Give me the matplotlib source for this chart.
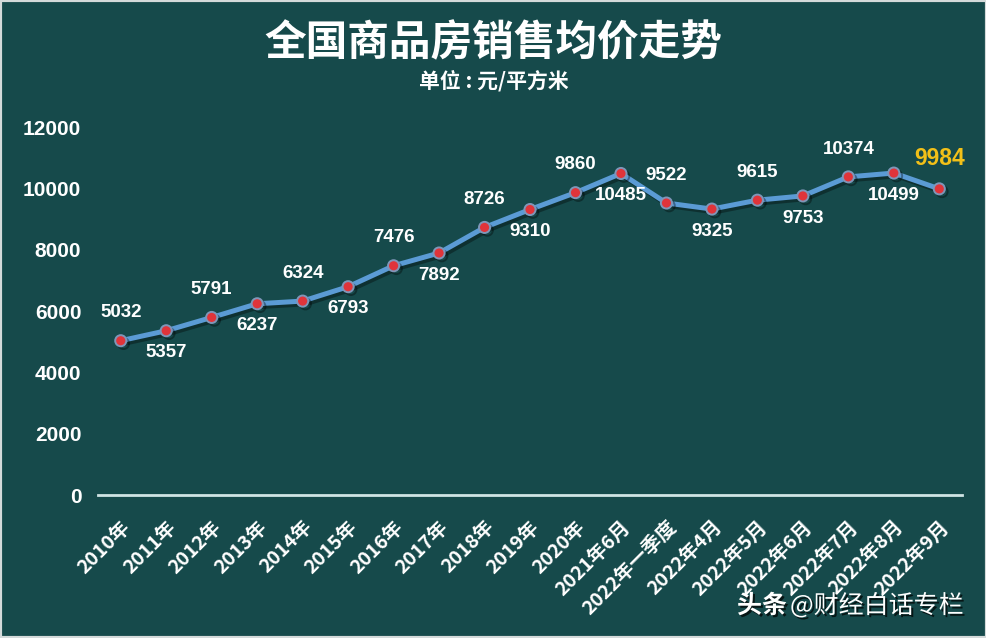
import matplotlib
matplotlib.use('Agg')
import matplotlib.pyplot as plt
import matplotlib.patheffects as pe
from matplotlib.patches import Rectangle

# 全国商品房销售均价 (元/平方米)
PERIODS = ['2010年', '2011年', '2012年', '2013年', '2014年', '2015年', '2016年',
           '2017年', '2018年', '2019年', '2020年', '2021年6月', '2022年一季度',
           '2022年4月', '2022年5月', '2022年6月', '2022年7月', '2022年8月', '2022年9月']
PRICES = [5032, 5357, 5791, 6237, 6324, 6793, 7476, 7892, 8726, 9310, 9860,
          10485, 9522, 9325, 9615, 9753, 10374, 10499, 9984]
Y_TICKS = [0, 2000, 4000, 6000, 8000, 10000, 12000]

BG = '#164a4b'
CJK = 'Noto Sans CJK SC'
NUM = 'Liberation Sans'

fig = plt.figure(figsize=(9.87, 6.38), dpi=100, facecolor=BG)
fig.patches.append(Rectangle((0, 0), 1, 1, transform=fig.transFigure, fill=False,
                             edgecolor='#d4dada', linewidth=3))

ax = fig.add_axes([0.0993, 0.2241, 0.8754, 0.5768])
ax.set_facecolor(BG)

x = list(range(len(PRICES)))
ax.plot(x, PRICES, color='#5b9bd5', linewidth=3.6, marker='o', markersize=8,
        markerfacecolor='#e0343a', markeredgecolor='#7f96b8', markeredgewidth=1.4,
        path_effects=[pe.SimpleLineShadow(offset=(2, -2), shadow_color='black', alpha=0.35),
                      pe.Normal()], zorder=3)

#labels alternate above / below the points, last one highlighted
for i, v in enumerate(PRICES):
    if i == len(PRICES) - 1:
        ax.annotate(str(v), (i, v), xytext=(0, 22), textcoords='offset points',
                    ha='center', va='center', color='#f2c018', fontsize=16.5,
                    fontweight='bold', family=NUM, annotation_clip=False)
    elif i % 2 == 0:
        ax.annotate(str(v), (i, v), xytext=(0, 20), textcoords='offset points',
                    ha='center', va='center', color='white', fontsize=13.5,
                    fontweight='bold', family=NUM, annotation_clip=False)
    else:
        ax.annotate(str(v), (i, v), xytext=(0, -16), textcoords='offset points',
                    ha='center', va='center', color='white', fontsize=13.5,
                    fontweight='bold', family=NUM, annotation_clip=False)

ax.set_xlim(-0.5, len(PRICES) - 0.5)
ax.set_ylim(0, 12000)
ax.set_yticks(Y_TICKS)
ax.set_yticklabels([str(t) for t in Y_TICKS], color='white', fontsize=15,
                   fontweight='bold', family=NUM)
ax.set_xticks(x)
ax.set_xticklabels(PERIODS, rotation=45, ha='right', rotation_mode='anchor',
                   color='white', fontsize=14, fontweight='bold', family=CJK)
ax.tick_params(axis='y', length=0, pad=12)
ax.tick_params(axis='x', length=0, pad=16)

for side in ['left', 'right', 'top']:
    ax.spines[side].set_visible(False)
ax.spines['bottom'].set_color('#d0e4e4')
ax.spines['bottom'].set_linewidth(2)

fig.text(0.5, 1 - 43 / 638, '全国商品房销售均价走势', ha='center', va='center',
         color='white', fontsize=30, fontweight='bold', family=CJK)
fig.text(0.5, 1 - 81 / 638, '单位 : 元/平方米', ha='center', va='center',
         color='white', fontsize=15, fontweight='bold', family=CJK)

shadow = [pe.SimplePatchShadow(offset=(1.5, -1.5), shadow_rgbFace='black', alpha=0.7), pe.Normal()]
fig.text(737 / 987, 1 - 606 / 638, '头条', ha='left', va='center', color='white',
         fontsize=18, fontweight='bold', family=CJK, path_effects=shadow)
fig.text(790 / 987, 1 - 606 / 638, '@财经白话专栏', ha='left', va='center', color='white',
         fontsize=18, family=CJK, path_effects=shadow)

plt.savefig('out.png', dpi=100, facecolor=BG)
